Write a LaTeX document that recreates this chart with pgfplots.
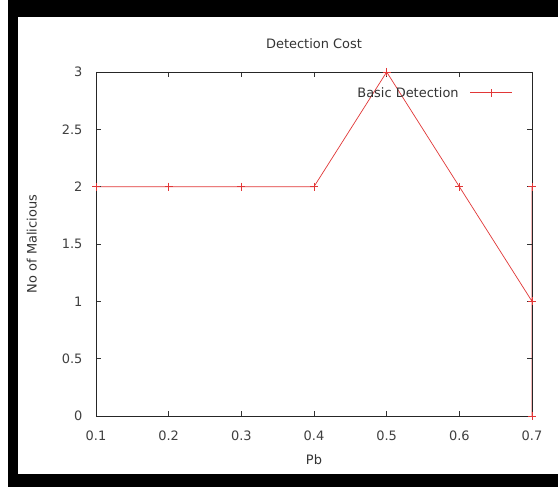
\documentclass[border=0pt]{standalone}
\usepackage{pgfplots}
\pgfplotsset{compat=1.18}
\usepackage{fontspec}
\setmainfont{DejaVu Sans}
\definecolor{gpred}{RGB}{225,55,55}
\begin{document}
\begin{tikzpicture}[x=1bp,y=1bp]
\useasboundingbox (0,0) rectangle (558,487);
\fill[white] (0,0) rectangle (558,487);
\fill[black] (8,0) rectangle (558,487);
\fill[white] (18,13) rectangle (558,470);
\begin{axis}[
  at={(96bp,71bp)}, anchor=south west,
  scale only axis, width=436bp, height=344bp,
  xmin=0.1, xmax=0.7, ymin=0, ymax=3,
  xtick={0.1,0.2,0.3,0.4,0.5,0.6,0.7},
  ytick={0,0.5,1,1.5,2,2.5,3},
  xticklabels={0.1,0.2,0.3,0.4,0.5,0.6,0.7},
  yticklabels={0,0.5,1,1.5,2,2.5,3},
  tick align=inside, major tick length=5bp,
  tick style={black!80, line width=0.7bp},
  axis line style={black!85, line width=0.9bp},
  ticklabel style={font=\fontsize{13}{15}\selectfont, text=black!75},
  xticklabel style={yshift=-11bp},
  yticklabel style={xshift=-10bp},
  title={Detection Cost},
  title style={font=\fontsize{13}{15}\selectfont, text=black!80, at={(axis description cs:0.5,1.064)}, anchor=center},
  xlabel={Pb}, ylabel={No of Malicious},
  label style={font=\fontsize{13}{15}\selectfont, text=black!80},
  xlabel style={at={(axis description cs:0.5,-0.128)}, anchor=center},
  ylabel style={at={(axis description cs:-0.147,0.5)}, anchor=center},
  axis on top,
  clip=false,
  legend plot pos=right,
  legend image code/.code={\path[draw=gpred, line width=0.8bp] (0bp,0bp) -- (42bp,0bp) (21bp,-4bp) -- (21bp,4bp);},
  legend style={draw=none, fill=none, at={(0.958,0.965)}, anchor=north east,
    font=\fontsize{13}{15}\selectfont, inner sep=1bp,
    /tikz/every odd column/.append style={column sep=9bp}},
  legend cell align=right,
]
\addplot[color=gpred, line width=0.7bp, mark=+, mark size=4bp, mark options={solid}]
  coordinates {(0.1,2) (0.2,2) (0.3,2) (0.4,2) (0.5,3) (0.6,2) (0.7,1) (0.7,2) (0.7,0)};
\addlegendentry{\textcolor{black!80}{Basic Detection}}
\end{axis}
\end{tikzpicture}
\end{document}
